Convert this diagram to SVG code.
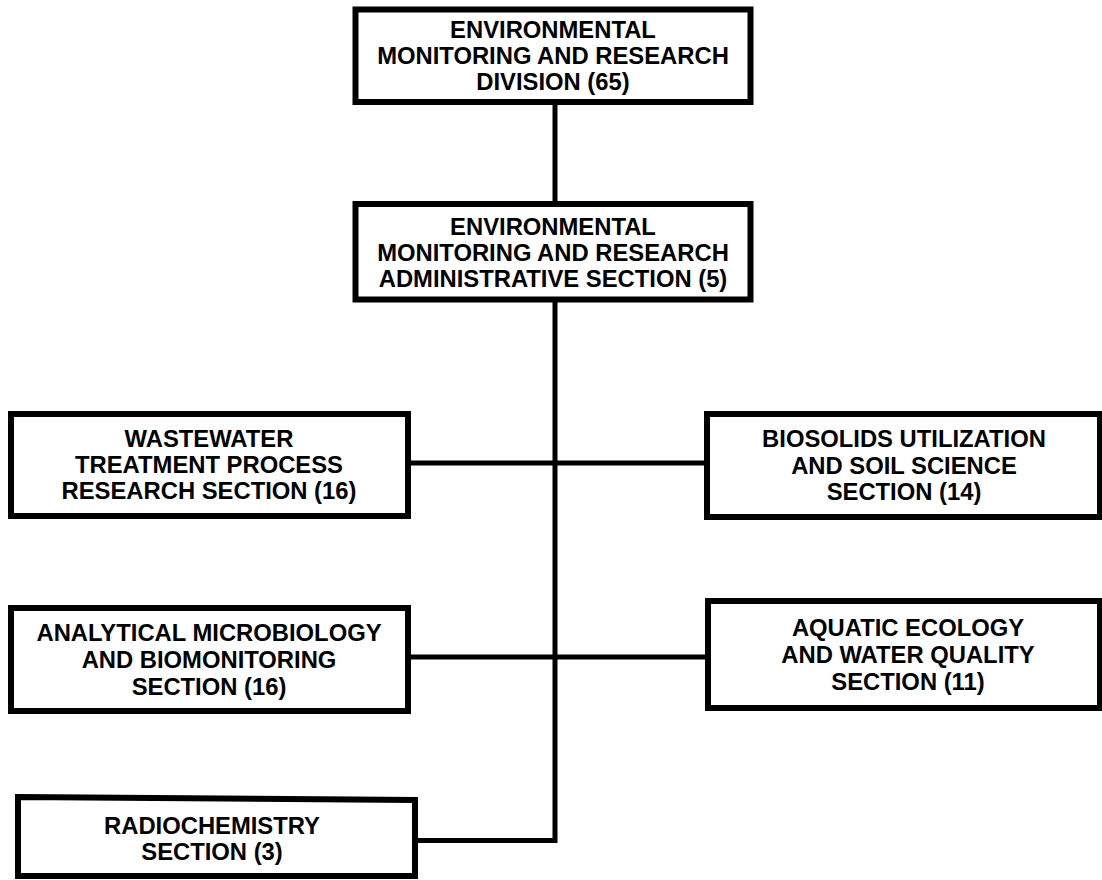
<svg xmlns="http://www.w3.org/2000/svg" width="1102" height="880" viewBox="0 0 1102 880">
<style>
.box{fill:#fff;stroke:#000;stroke-width:6}
.conn{fill:none;stroke:#000;stroke-width:5}
text{font-family:"Liberation Sans",Arial,sans-serif;font-weight:bold;font-size:23.8px;fill:#000;text-anchor:middle}
</style>
<rect width="1102" height="880" fill="#fff"/>
<g id="connectors">
<line class="conn" x1="555" y1="102" x2="555" y2="204"/>
<polyline class="conn" points="555,299 555,843"/>
<line class="conn" x1="408" y1="463" x2="707" y2="463"/>
<line class="conn" x1="408" y1="657" x2="708" y2="657"/>
<polyline class="conn" points="415,840.5 555,840.5"/>
</g>
<g id="division">
<rect class="box" x="355.5" y="9.5" width="395" height="92.5"/>
<text x="553" y="38">ENVIRONMENTAL</text>
<text x="553" y="64">MONITORING AND RESEARCH</text>
<text x="553" y="90">DIVISION (65)</text>
</g>
<g id="admin">
<rect class="box" x="355.5" y="204" width="395" height="95.5"/>
<text x="553" y="235">ENVIRONMENTAL</text>
<text x="553" y="261">MONITORING AND RESEARCH</text>
<text x="553" y="287">ADMINISTRATIVE SECTION (5)</text>
</g>
<g id="wastewater">
<rect class="box" x="11" y="414" width="397" height="102"/>
<text x="209" y="447">WASTEWATER</text>
<text x="209" y="473">TREATMENT PROCESS</text>
<text x="209" y="499">RESEARCH SECTION (16)</text>
</g>
<g id="biosolids">
<rect class="box" x="707" y="414" width="393" height="103"/>
<text x="904" y="447">BIOSOLIDS UTILIZATION</text>
<text x="904" y="473.5">AND SOIL SCIENCE</text>
<text x="904" y="500">SECTION (14)</text>
</g>
<g id="analytical">
<rect class="box" x="11" y="608" width="397" height="103"/>
<text x="209" y="641">ANALYTICAL MICROBIOLOGY</text>
<text x="209" y="668">AND BIOMONITORING</text>
<text x="209" y="695">SECTION (16)</text>
</g>
<g id="aquatic">
<rect class="box" x="708" y="601" width="392" height="107"/>
<text x="908" y="635.5">AQUATIC ECOLOGY</text>
<text x="908" y="663">AND WATER QUALITY</text>
<text x="908" y="690">SECTION (11)</text>
</g>
<g id="radiochemistry">
<polygon class="box" points="18,797 415,800 415,876 18,876"/>
<text x="212" y="834">RADIOCHEMISTRY</text>
<text x="212" y="860">SECTION (3)</text>
</g>
</svg>
